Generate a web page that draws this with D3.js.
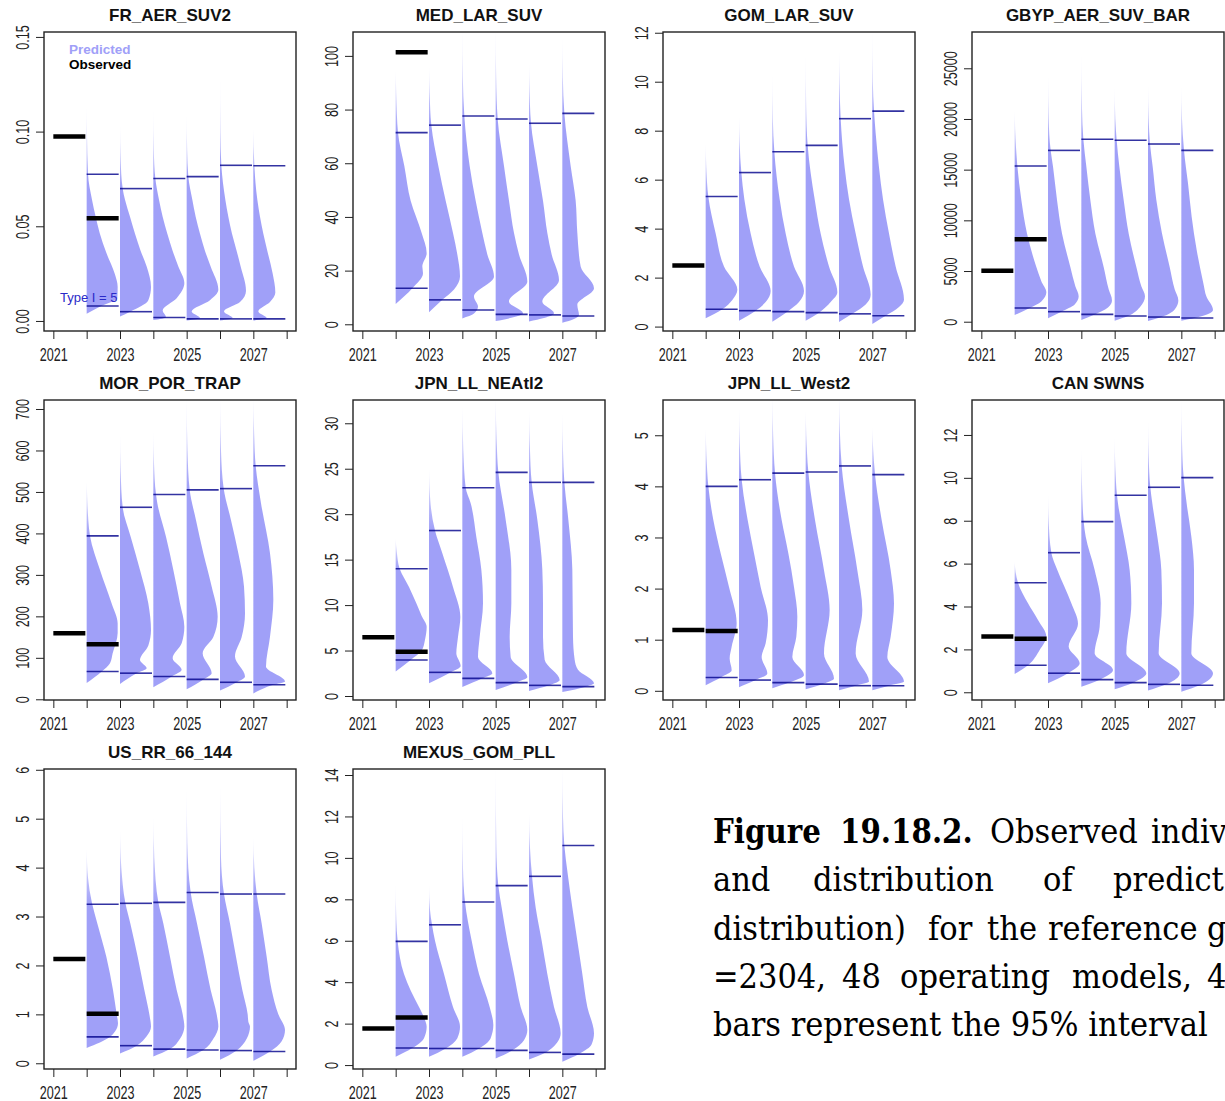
<!DOCTYPE html>
<html>
<head>
<meta charset="utf-8">
<script src="https://cdn.jsdelivr.net/npm/d3@7"></script>
<style>
  body { margin: 0; background: #fff; }
  svg { display: block; }
</style>
</head>
<body>
<script>
// ---- data ----
const panelNames = ["FR_AER_SUV2", "MED_LAR_SUV", "GOM_LAR_SUV", "GBYP_AER_SUV_BAR",
  "MOR_POR_TRAP", "JPN_LL_NEAtl2", "JPN_LL_West2", "CAN SWNS",
  "US_RR_66_144", "MEXUS_GOM_PLL"]

const tickYears = [2021, 2022, 2023, 2024, 2025, 2026, 2027, 2028]
const obsYears = [2021, 2022]
const predYears = [2022, 2023, 2024, 2025, 2026, 2027]

const yTickVals = [
  [0, 0.05, 0.10, 0.15],
  [0, 20, 40, 60, 80, 100],
  [0, 2, 4, 6, 8, 10, 12],
  [0, 5000, 10000, 15000, 20000, 25000],
  [0, 100, 200, 300, 400, 500, 600, 700],
  [0, 5, 10, 15, 20, 25, 30],
  [0, 1, 2, 3, 4, 5],
  [0, 2, 4, 6, 8, 10, 12],
  [0, 1, 2, 3, 4, 5, 6],
  [0, 2, 4, 6, 8, 10, 12, 14]
]
const yLimits = [
  [-0.0053, 0.1526], [-2.5, 108.9], [-0.18, 12.03], [-917, 28580],
  [-1.7, 721.7], [-0.44, 32.56], [-0.18, 5.69], [-0.36, 13.63],
  [-0.117, 6.016], [-0.19, 14.29]
]

// observed index values (2021, 2022)
const observed = [
  [0.0974, 0.0542], [null, 101.4], [2.49, null], [5030, 8130], [159, 133],
  [6.45, 4.88], [1.19, 1.17], [2.6, 2.5], [2.13, 1.01], [1.77, 2.3]
]

// 95% interval of predicted values, 2022..2027
const lower95 = [
  [0.0079, 0.0049, 0.0018, 0.0011, 0.0011, 0.0011],
  [13.4, 9.1, 5.3, 3.7, 3.5, 3.1],
  [0.71, 0.65, 0.61, 0.57, 0.52, 0.44],
  [1350, 990, 720, 560, 460, 360],
  [67, 63, 55, 48, 41, 35],
  [3.96, 2.6, 1.94, 1.47, 1.17, 1.03],
  [0.26, 0.21, 0.16, 0.13, 0.10, 0.10],
  [1.26, 0.89, 0.59, 0.45, 0.37, 0.33],
  [0.54, 0.36, 0.29, 0.27, 0.26, 0.24],
  [0.82, 0.80, 0.80, 0.71, 0.61, 0.53]
]
const upper95 = [
  [0.0775, 0.0699, 0.0752, 0.0762, 0.0822, 0.0820],
  [71.4, 74.2, 77.6, 76.5, 74.9, 78.6],
  [5.31, 6.29, 7.14, 7.40, 8.49, 8.80],
  [15360, 16900, 18000, 17900, 17530, 16900],
  [394, 463, 494, 505, 508, 563],
  [14.0, 18.2, 22.9, 24.6, 23.5, 23.5],
  [4.0, 4.13, 4.26, 4.28, 4.40, 4.23],
  [5.11, 6.51, 7.96, 9.19, 9.56, 10.01],
  [3.25, 3.27, 3.29, 3.49, 3.46, 3.46],
  [5.97, 6.77, 7.87, 8.66, 9.11, 10.6]
]

// half-violin profiles: [value, width as fraction of one year], bottom to top
const densities = [
  [ // FR_AER_SUV2
    [[0.0038,0],[0.008,0.45],[0.012,0.92],[0.018,0.93],[0.025,0.84],[0.036,0.59],[0.0465,0.39],[0.055,0.27],[0.064,0.16],[0.0776,0.04],[0.099,0.01],[0.114,0]],
    [[0.0023,0],[0.0049,0.3],[0.011,0.85],[0.018,0.93],[0.0287,0.8],[0.037,0.62],[0.046,0.45],[0.055,0.3],[0.064,0.15],[0.07,0.08],[0.085,0.02],[0.104,0]],
    [[0.0005,0],[0.002,0.38],[0.0055,0.28],[0.012,0.7],[0.02,0.93],[0.0287,0.75],[0.037,0.58],[0.046,0.42],[0.055,0.28],[0.064,0.17],[0.0752,0.06],[0.09,0.015],[0.1125,0]],
    [[0.0002,0],[0.0015,0.4],[0.005,0.15],[0.011,0.7],[0.0165,0.95],[0.0287,0.72],[0.037,0.55],[0.046,0.4],[0.055,0.27],[0.064,0.17],[0.0762,0.05],[0.09,0.015],[0.1097,0]],
    [[0.0002,0],[0.0015,0.38],[0.005,0.12],[0.01,0.6],[0.016,0.78],[0.0287,0.62],[0.037,0.5],[0.046,0.36],[0.055,0.25],[0.064,0.16],[0.0822,0.04],[0.1,0.01],[0.131,0]],
    [[0.0002,0],[0.0015,0.4],[0.005,0.15],[0.01,0.5],[0.015,0.66],[0.025,0.58],[0.037,0.42],[0.046,0.3],[0.055,0.2],[0.064,0.12],[0.082,0.03],[0.102,0]]
  ],
  [ // MED_LAR_SUV
    [[7.6,0],[13.4,0.5],[19,0.82],[21.5,0.8],[26.5,0.93],[34,0.78],[46,0.45],[59,0.26],[71.4,0.07],[85,0.02],[94.8,0]],
    [[4.5,0],[9.1,0.4],[13,0.75],[17.8,0.93],[26,0.85],[34,0.72],[46,0.5],[59,0.28],[74.2,0.07],[86,0.02],[96,0]],
    [[2.2,0],[4,0.35],[6.6,0.47],[10.3,0.35],[17.8,0.95],[26,0.75],[34,0.6],[46,0.4],[59,0.22],[77.6,0.06],[92,0.015],[112,0]],
    [[1.2,0],[2.5,0.5],[4.1,0.82],[8.4,0.4],[15.9,0.95],[26,0.7],[34,0.55],[46,0.4],[59,0.25],[76.5,0.06],[92,0.015],[112,0]],
    [[1.0,0],[2.3,0.45],[4.1,0.75],[8.4,0.4],[16.5,0.9],[26,0.68],[34,0.55],[46,0.42],[59,0.25],[74.9,0.06],[88,0.015],[97.3,0]],
    [[0.6,0],[2,0.35],[3.5,0.5],[7.2,0.45],[13.4,0.95],[21.5,0.55],[34,0.45],[46,0.4],[59,0.25],[78.6,0.06],[92,0.015],[107.5,0]]
  ],
  [ // GOM_LAR_SUV
    [[0.34,0],[0.71,0.5],[1.09,0.8],[1.5,0.95],[2.45,0.55],[3.8,0.3],[5.3,0.08],[6.5,0.02],[7.5,0]],
    [[0.24,0],[0.65,0.5],[1.0,0.8],[1.45,0.95],[2.45,0.62],[3.8,0.35],[5.2,0.16],[6.29,0.07],[7.5,0.02],[8.6,0]],
    [[0.2,0],[0.61,0.45],[1.0,0.8],[1.45,0.95],[2.45,0.65],[3.8,0.4],[5.2,0.22],[7.14,0.06],[8.5,0.015],[10.4,0]],
    [[0.24,0],[0.57,0.4],[1.0,0.75],[1.4,0.95],[2.45,0.7],[3.8,0.45],[5.2,0.27],[7.4,0.06],[9,0.015],[11.2,0]],
    [[0.19,0],[0.52,0.4],[0.9,0.8],[1.3,0.95],[2.45,0.72],[3.8,0.5],[5.2,0.3],[6.5,0.17],[8.49,0.05],[10,0.015],[11.3,0]],
    [[0.11,0],[0.44,0.4],[0.8,0.8],[1.1,0.95],[2.45,0.7],[3.8,0.5],[5.2,0.32],[6.5,0.2],[7.9,0.1],[8.8,0.05],[10,0.015],[12.2,0]]
  ],
  [ // GBYP_AER_SUV_BAR
    [[660,0],[1350,0.45],[2000,0.8],[2900,0.95],[4000,0.8],[5400,0.65],[8700,0.37],[12000,0.2],[15360,0.08],[19000,0.015],[20900,0]],
    [[330,0],[990,0.4],[1700,0.8],[2500,0.92],[3500,0.82],[5400,0.67],[8700,0.42],[12000,0.27],[15300,0.15],[16900,0.08],[20000,0.02],[24400,0]],
    [[160,0],[720,0.4],[1400,0.8],[2100,0.92],[3200,0.82],[5400,0.67],[8700,0.42],[12000,0.27],[15300,0.15],[18000,0.06],[21000,0.02],[26500,0]],
    [[100,0],[560,0.4],[1400,0.75],[2500,0.91],[3500,0.8],[5400,0.65],[8700,0.42],[12000,0.27],[15300,0.14],[17900,0.06],[20000,0.02],[23200,0]],
    [[80,0],[460,0.4],[1200,0.8],[2100,0.91],[3200,0.8],[5400,0.65],[8700,0.42],[12000,0.25],[15300,0.14],[17530,0.06],[20000,0.02],[23400,0]],
    [[100,0],[360,0.4],[1150,0.95],[2500,0.75],[3800,0.66],[7070,0.46],[10360,0.31],[13650,0.2],[16900,0.08],[20000,0.02],[23300,0]]
  ],
  [ // MOR_POR_TRAP
    [[39,0],[67,0.45],[87,0.7],[111,0.78],[160,0.93],[183,0.93],[231,0.75],[312,0.4],[394,0.1],[432,0.05],[480,0.02],[525,0]],
    [[37,0],[63,0.5],[75,0.8],[95,0.6],[130,0.85],[167,0.93],[231,0.85],[312,0.6],[392,0.32],[463,0.08],[550,0.02],[641,0]],
    [[29,0],[55,0.55],[71,0.85],[99,0.58],[135,0.85],[175,0.93],[231,0.8],[312,0.6],[392,0.38],[473,0.12],[494,0.08],[570,0.02],[650,0]],
    [[24,0],[48,0.5],[63,0.75],[111,0.48],[150,0.8],[199,0.93],[272,0.75],[352,0.5],[432,0.28],[505,0.09],[600,0.025],[730,0]],
    [[21,0],[41,0.5],[55,0.75],[103,0.45],[150,0.65],[207,0.75],[272,0.72],[352,0.55],[432,0.33],[508,0.11],[600,0.03],[730,0]],
    [[14,0],[35,0.6],[43,0.95],[79,0.38],[151,0.5],[240,0.6],[352,0.5],[473,0.23],[563,0.07],[640,0.025],[730,0]]
  ],
  [ // JPN_LL_NEAtl2
    [[2.7,0],[3.96,0.45],[5.0,0.78],[6.2,0.88],[7.6,0.93],[8.8,0.78],[10.2,0.62],[12,0.4],[14,0.12],[16,0.03],[17.3,0]],
    [[1.4,0],[2.6,0.65],[3.3,0.95],[4.7,0.82],[6.5,0.87],[8.7,0.94],[12,0.72],[15.7,0.4],[18.2,0.18],[21,0.05],[25,0]],
    [[1.0,0],[1.94,0.6],[2.5,0.9],[4.3,0.47],[6.5,0.52],[10.2,0.62],[13.9,0.57],[17.5,0.42],[21.2,0.25],[22.9,0.1],[27,0.03],[32,0]],
    [[0.66,0],[1.47,0.6],[2.1,0.95],[4.3,0.45],[6.5,0.42],[10.2,0.47],[13.9,0.47],[19.4,0.3],[24.6,0.08],[28,0.03],[33,0]],
    [[0.55,0],[1.17,0.6],[1.76,0.92],[4,0.47],[6.5,0.42],[10.2,0.42],[13.9,0.4],[19.4,0.25],[23.5,0.08],[27,0.03],[31.5,0]],
    [[0.44,0],[1.03,0.7],[1.4,0.95],[2.9,0.47],[4,0.37],[6.5,0.32],[13.9,0.3],[19.4,0.18],[23.5,0.06],[27,0.02],[31.3,0]]
  ],
  [ // JPN_LL_West2
    [[0.11,0],[0.26,0.45],[0.4,0.78],[0.63,0.72],[0.86,0.78],[1.32,0.93],[2.03,0.7],[2.69,0.45],[3.34,0.23],[4.0,0.08],[4.6,0.025],[5.13,0]],
    [[0.07,0],[0.21,0.5],[0.34,0.85],[0.66,0.68],[0.93,0.8],[1.38,0.87],[2.03,0.65],[2.69,0.45],[3.34,0.26],[4.13,0.08],[4.8,0.025],[5.55,0]],
    [[0.05,0],[0.16,0.5],[0.31,0.95],[0.66,0.6],[1.06,0.72],[1.45,0.75],[2.03,0.65],[2.69,0.48],[3.34,0.28],[4.26,0.08],[5,0.025],[5.8,0]],
    [[0.03,0],[0.13,0.5],[0.24,0.85],[0.73,0.55],[1.58,0.72],[2.36,0.55],[3.34,0.28],[4.28,0.08],[5,0.02],[5.49,0]],
    [[0.01,0],[0.1,0.5],[0.18,0.9],[0.73,0.5],[1.58,0.7],[2.36,0.55],[3.34,0.3],[4.4,0.08],[5.1,0.025],[5.8,0]],
    [[0.01,0],[0.1,0.5],[0.18,0.95],[0.66,0.45],[1.06,0.55],[1.71,0.65],[2.36,0.55],[3.34,0.28],[4.23,0.08],[4.8,0.02],[5.16,0]]
  ],
  [ // CAN SWNS
    [[0.85,0],[1.26,0.4],[1.97,0.75],[2.6,0.95],[3.37,0.7],[4.15,0.4],[5.11,0.1],[5.6,0.03],[6.09,0]],
    [[0.42,0],[0.89,0.6],[1.35,0.95],[2.13,0.62],[3.2,0.9],[4.15,0.7],[5.7,0.28],[6.51,0.1],[8,0.02],[9.28,0]],
    [[0.26,0],[0.59,0.55],[1.04,0.95],[1.82,0.4],[3.06,0.55],[4.15,0.58],[5.7,0.4],[7.26,0.13],[7.96,0.07],[9.7,0.02],[11.38,0]],
    [[0.14,0],[0.45,0.55],[0.89,0.95],[1.82,0.35],[4.15,0.5],[5.7,0.45],[7.26,0.28],[8.8,0.1],[9.19,0.07],[10.5,0.02],[11.92,0]],
    [[0.08,0],[0.37,0.55],[0.89,0.95],[1.82,0.32],[4.15,0.42],[5.7,0.4],[7.26,0.28],[8.8,0.13],[9.56,0.07],[11,0.02],[12.7,0]],
    [[0.03,0],[0.33,0.55],[0.89,0.95],[1.82,0.3],[4.15,0.38],[5.7,0.38],[7.26,0.3],[8.8,0.16],[10.01,0.07],[11.7,0.02],[13.7,0]]
  ],
  [ // US_RR_66_144
    [[0.31,0],[0.54,0.7],[0.65,0.85],[0.82,0.94],[1.0,0.9],[1.5,0.79],[2.18,0.59],[2.86,0.32],[3.27,0.16],[3.8,0.04],[4.4,0]],
    [[0.2,0],[0.36,0.5],[0.55,0.8],[0.75,0.93],[1.0,0.88],[1.5,0.73],[2.18,0.53],[2.86,0.31],[3.28,0.16],[4,0.04],[4.77,0]],
    [[0.14,0],[0.29,0.5],[0.5,0.8],[0.75,0.93],[1.0,0.88],[1.5,0.7],[2.18,0.5],[2.86,0.3],[3.29,0.15],[4.2,0.03],[5.04,0]],
    [[0.1,0],[0.27,0.5],[0.5,0.8],[0.75,0.95],[1.0,0.9],[1.5,0.72],[2.18,0.52],[2.86,0.31],[3.49,0.12],[4.5,0.02],[5.64,0]],
    [[0.07,0],[0.26,0.5],[0.5,0.8],[0.75,0.9],[0.85,0.85],[1.0,0.83],[1.5,0.67],[2.18,0.48],[2.86,0.3],[3.46,0.12],[4.2,0.03],[5.69,0]],
    [[0.05,0],[0.24,0.5],[0.45,0.85],[0.68,0.95],[1.0,0.75],[1.5,0.55],[2.18,0.4],[2.86,0.25],[3.46,0.1],[4.0,0.03],[4.62,0]]
  ],
  [ // MEXUS_GOM_PLL
    [[0.4,0],[0.82,0.5],[1.3,0.85],[1.85,0.93],[2.3,0.85],[2.8,0.7],[3.6,0.45],[4.4,0.25],[5.97,0.06],[7,0.02],[8.77,0]],
    [[0.4,0],[0.8,0.5],[1.3,0.85],[1.85,0.93],[2.8,0.72],[4.4,0.45],[6.0,0.18],[6.77,0.09],[7.5,0.03],[8.69,0]],
    [[0.4,0],[0.8,0.5],[1.3,0.85],[1.93,0.93],[2.8,0.82],[4.4,0.5],[6.0,0.28],[7.87,0.08],[9.5,0.02],[12.07,0]],
    [[0.32,0],[0.71,0.5],[1.2,0.85],[1.69,0.95],[2.8,0.75],[4.4,0.55],[6.0,0.35],[7.6,0.18],[8.66,0.08],[10.5,0.02],[14.5,0]],
    [[0.27,0],[0.61,0.5],[1.1,0.85],[1.53,0.95],[2.8,0.75],[4.4,0.55],[6.0,0.38],[7.6,0.2],[9.11,0.09],[10.5,0.03],[12.15,0]],
    [[0.16,0],[0.53,0.5],[1.0,0.88],[1.53,0.95],[2.8,0.75],[4.4,0.6],[6.0,0.45],[7.6,0.3],[9.25,0.16],[10.6,0.06],[12,0.02],[14.5,0]]
  ]
]

// caption lines as far as they are visible in the figure: [word, x, bold]
const captionLines = [
  [["Figure", 713, true], ["19.18.2.", 840, true], ["Observed", 990], ["indiv", 1151]],
  [["and", 713], ["distribution", 813], ["of", 1043], ["predict", 1113]],
  [["distribution)", 713], ["for", 928], ["the", 987], ["reference", 1048], ["g", 1207]],
  [["=2304,", 713], ["48", 842], ["operating", 900], ["models,", 1072], ["4", 1207]],
  [["bars represent the 95% interval", 713]]
]
const captionBase = [843, 891, 940, 988, 1036]

// ---- layout ----
const W = 1225, H = 1101
const colLeft = [44, 353, 663, 972]
const rowTop = [32, 400, 769]
const BOX_W = 252
const FILL = "#a0a0f8"
const AXIS_FONT = "'Liberation Sans', Arial, sans-serif"
const SX = 0.7   // the axis digits in the figure are narrow

const svg = d3.select("body").append("svg").attr("width", W).attr("height", H)
const defs = svg.append("defs")

panelNames.forEach((name, i) => {
  const left = colLeft[i % 4]
  const top = rowTop[Math.floor(i / 4)]
  const bottom = top + (i < 4 ? 299 : 300)

  const x = d3.scaleLinear().domain([2020.72, 2028.28]).range([left, left + BOX_W])
  const y = d3.scaleLinear().domain(yLimits[i]).range([bottom, top])

  defs.append("clipPath").attr("id", "clip" + i)
    .append("rect").attr("x", left).attr("y", top)
    .attr("width", BOX_W).attr("height", bottom - top)

  const g = svg.append("g")
  const plot = g.append("g").attr("clip-path", `url(#clip${i})`)

  // half violins, upper tail fades out
  densities[i].forEach((prof, j) => {
    const yr = predYears[j]
    const gid = `fade${i}_${j}`
    const grad = defs.append("linearGradient").attr("id", gid)
      .attr("gradientUnits", "userSpaceOnUse")
      .attr("x1", 0).attr("x2", 0)
      .attr("y1", y(upper95[i][j])).attr("y2", y(prof[prof.length - 1][0]))
    grad.append("stop").attr("offset", 0).attr("stop-color", FILL).attr("stop-opacity", 1)
    grad.append("stop").attr("offset", 0.4).attr("stop-color", FILL).attr("stop-opacity", 0.7)
    grad.append("stop").attr("offset", 1).attr("stop-color", FILL).attr("stop-opacity", 0.12)

    const area = d3.area()
      .curve(d3.curveMonotoneY)
      .y(d => y(d[0]))
      .x0(x(yr))
      .x1(d => x(yr + d[1]))
    plot.append("path").datum(prof).attr("d", area).attr("fill", `url(#${gid})`)
  })

  // 95% interval bars
  const bars = predYears.flatMap((yr, j) => [
    { yr, v: lower95[i][j] }, { yr, v: upper95[i][j] }
  ])
  plot.selectAll(".q").data(bars).enter().append("line")
    .attr("x1", d => x(d.yr)).attr("x2", d => x(d.yr + 0.96))
    .attr("y1", d => y(d.v)).attr("y2", d => y(d.v))
    .attr("stroke", "#00008b").attr("stroke-opacity", 0.8).attr("stroke-width", 1.6)

  // observed
  const obs = obsYears.map((yr, j) => ({ yr, v: observed[i][j] })).filter(d => d.v != null)
  plot.selectAll(".o").data(obs).enter().append("line")
    .attr("x1", d => x(d.yr)).attr("x2", d => x(d.yr + 0.96))
    .attr("y1", d => y(d.v)).attr("y2", d => y(d.v))
    .attr("stroke", "#000").attr("stroke-width", 4.5)

  // axes
  const xAxis = g.append("g").attr("transform", `translate(0,${bottom})`)
    .call(d3.axisBottom(x).tickValues(tickYears).tickSize(8).tickSizeOuter(0)
      .tickFormat(d => d % 2 ? d : ""))
  xAxis.selectAll("text")
    .attr("y", null).attr("dy", null)
    .attr("transform", `translate(0,29.5) scale(${SX},1)`)
    .attr("font-size", 18).attr("font-family", AXIS_FONT).attr("fill", "#222")

  const fmt = i === 0 ? d3.format(".2f") : d3.format("d")
  const yAxis = g.append("g").attr("transform", `translate(${left},0)`)
    .call(d3.axisLeft(y).tickValues(yTickVals[i]).tickSize(8).tickSizeOuter(0).tickFormat(fmt))
  yAxis.selectAll("text")
    .attr("x", null).attr("dy", null)
    .attr("text-anchor", "middle")
    .attr("transform", `translate(-15.5,0) rotate(-90) scale(${SX},1)`)
    .attr("font-size", 18).attr("font-family", AXIS_FONT).attr("fill", "#222")

  g.selectAll(".domain").remove()
  g.selectAll(".tick line").attr("stroke", "#222")

  // box
  g.append("rect").attr("x", left).attr("y", top)
    .attr("width", BOX_W).attr("height", bottom - top)
    .attr("fill", "none").attr("stroke", "#222").attr("stroke-width", 1.4)

  // title
  g.append("text").attr("x", left + BOX_W / 2).attr("y", top - 11)
    .attr("text-anchor", "middle").attr("font-family", AXIS_FONT)
    .attr("font-weight", "bold").attr("font-size", 17).attr("fill", "#111")
    .text(name)

  if (i === 0) {
    g.append("text").attr("x", 69).attr("y", 53.5)
      .attr("font-family", AXIS_FONT).attr("font-weight", "bold").attr("font-size", 13.5)
      .attr("fill", FILL).text("Predicted")
    g.append("text").attr("x", 69).attr("y", 69)
      .attr("font-family", AXIS_FONT).attr("font-weight", "bold").attr("font-size", 13.5)
      .attr("fill", "#000").text("Observed")
    g.append("text").attr("x", 60).attr("y", 302)
      .attr("font-family", AXIS_FONT).attr("font-size", 13)
      .attr("fill", "#2a2ac8").text("Type I = 5")
  }
})

// ---- caption ----
const CAP_FONT = "'DejaVu Serif', 'Liberation Serif', serif"
const CAP_SIZE = 33
function measure(txt, bold) {
  const t = svg.append("text").attr("font-family", CAP_FONT).attr("font-size", CAP_SIZE)
    .attr("font-weight", bold ? "bold" : "normal").text(txt)
  const L = t.node().getComputedTextLength()
  t.remove()
  return L
}
const sxNormal = 495 / measure("bars represent the 95% interval", false)
const sxBold = 108 / measure("Figure", true)

const cap = svg.append("g")
captionLines.forEach((line, li) => {
  line.forEach(([word, wx, bold]) => {
    cap.append("text")
      .attr("transform", `translate(${wx},${captionBase[li]}) scale(${bold ? sxBold : sxNormal},1)`)
      .attr("font-family", CAP_FONT).attr("font-size", CAP_SIZE)
      .attr("font-weight", bold ? "bold" : "normal").attr("fill", "#000")
      .text(word)
  })
})
</script>
</body>
</html>
